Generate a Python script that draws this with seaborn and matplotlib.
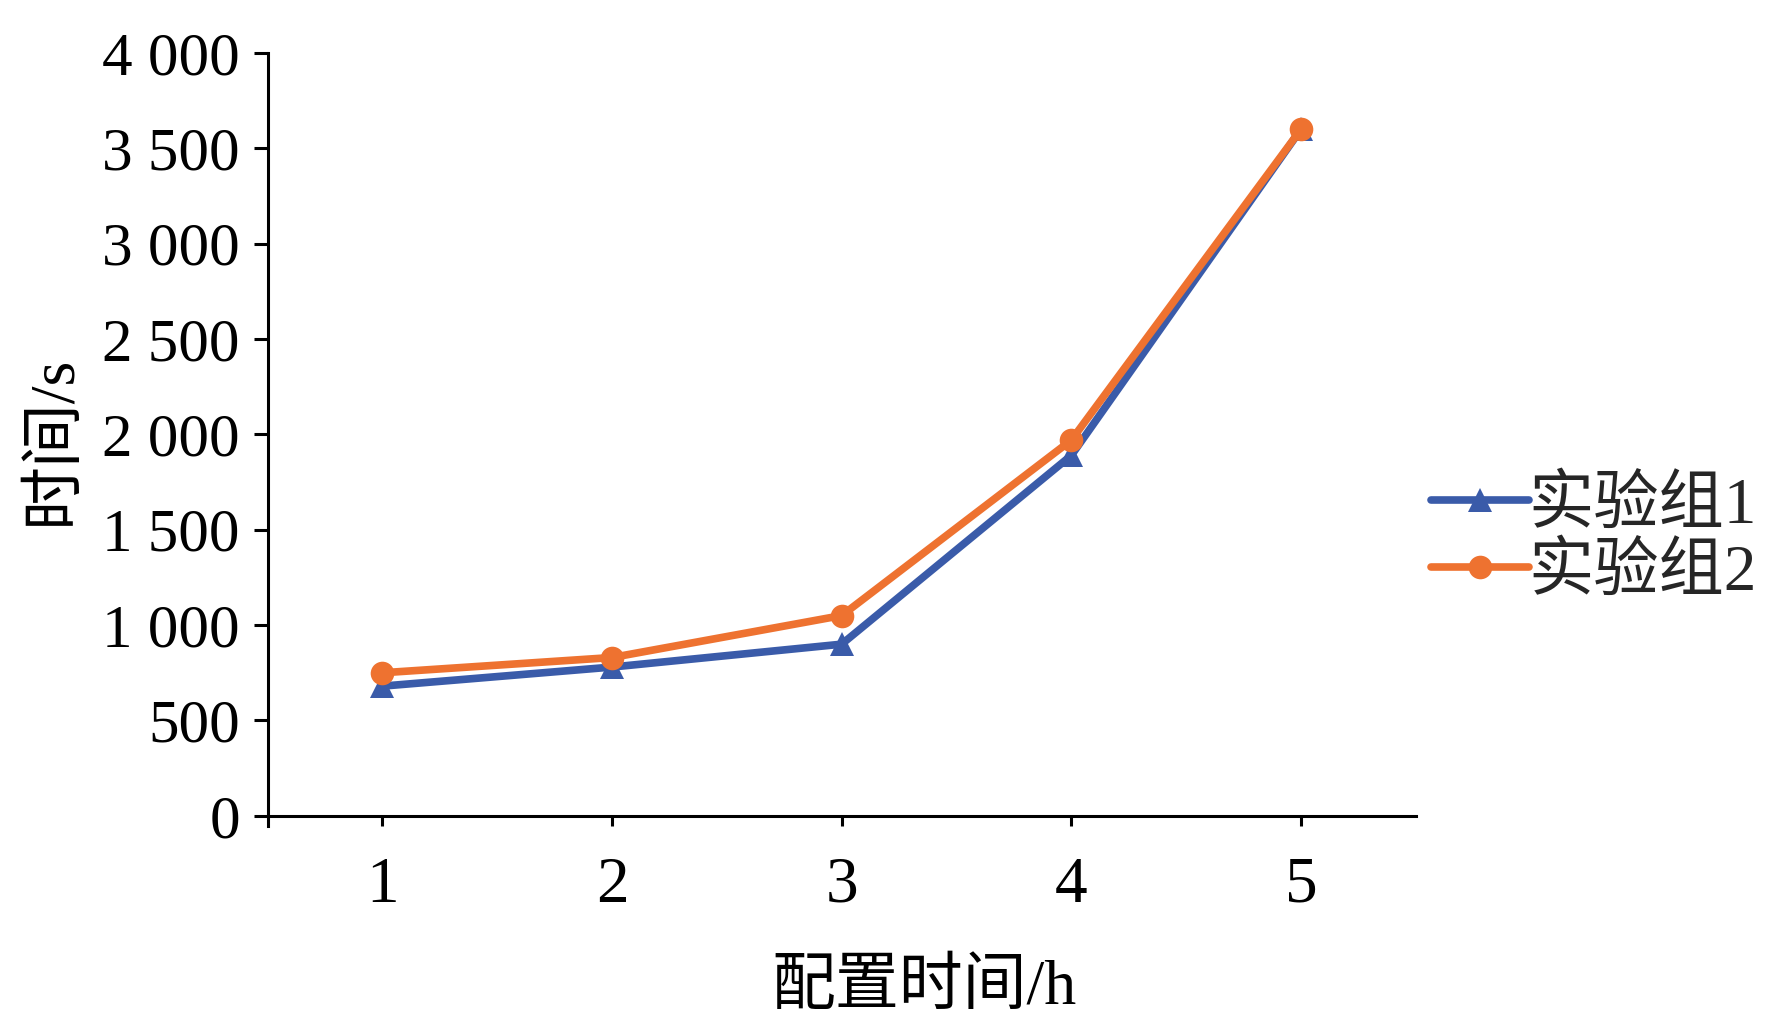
import matplotlib
matplotlib.use('Agg')
import matplotlib.pyplot as plt
import seaborn as sns
import pandas as pd

# 数据
hours = [1, 2, 3, 4, 5]
group1 = [680, 780, 900, 1890, 3600]
group2 = [750, 830, 1050, 1970, 3600]
series_names = ['实验组1', '实验组2']
y_ticks = [0, 500, 1000, 1500, 2000, 2500, 3000, 3500, 4000]
y_tick_labels = ['0', '500', '1 000', '1 500', '2 000', '2 500', '3 000', '3 500', '4 000']

df = pd.DataFrame({
    'hour': hours * 2,
    'time': group1 + group2,
    'group': [series_names[0]] * len(hours) + [series_names[1]] * len(hours),
})

sns.set_theme(style='white')
plt.rcParams['font.family'] = ['Liberation Serif', 'Noto Sans CJK SC']
plt.rcParams['axes.unicode_minus'] = False

fig = plt.figure(figsize=(17.72, 10.29), dpi=100)
ax = fig.add_axes([0.151, 0.197, 0.648, 0.7515])

sns.lineplot(data=df, x='hour', y='time', hue='group', style='group',
             markers=['^', 'o'], dashes=False, palette=['#3A5BA9', '#EE7230'],
             linewidth=5.5, markersize=17, markeredgewidth=0, ax=ax)

ax.set_xlim(0.5, 5.5)
ax.set_ylim(-55, 4000)
ax.spines['bottom'].set_position(('data', 0))
for s in ['top', 'right']:
    ax.spines[s].set_visible(False)
for s in ['left', 'bottom']:
    ax.spines[s].set_linewidth(2.2)
    ax.spines[s].set_color('black')

ax.set_xticks(hours)
ax.set_xticklabels([str(h) for h in hours])
ax.set_yticks(y_ticks)
ax.set_yticklabels(y_tick_labels)
ax.tick_params(axis='y', direction='out', length=10, width=2.2, pad=10,
               labelsize=44, left=True, colors='black')
ax.tick_params(axis='x', direction='out', length=7, width=2.2, pad=22,
               labelsize=47, bottom=True, colors='black')

ax.set_xlabel('配置时间/h', fontsize=46, color='black')
ax.xaxis.set_label_coords(0.572, -0.172)
ax.set_ylabel('时间/s', fontsize=46, color='black')
ax.yaxis.set_label_coords(-0.16, 0.5)

ax.legend(loc='center left', bbox_to_anchor=(1.013, 0.37), frameon=False,
          fontsize=47, handlelength=1.5, handletextpad=0.0,
          labelspacing=0.1, borderpad=0, borderaxespad=0)

fig.savefig('out.png', dpi=100, facecolor='white')
